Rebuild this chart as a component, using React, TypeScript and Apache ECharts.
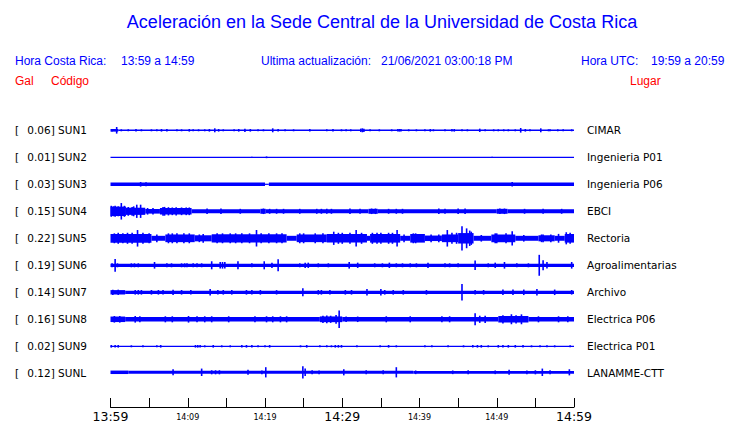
import React, { useEffect, useRef } from "react";
import * as echarts from "echarts";

// ---- data ----
const STATIONS = ["SUN1", "SUN2", "SUN3", "SUN4", "SUN5", "SUN6", "SUN7", "SUN8", "SUN9", "SUNL"];
const PEAKS = ["0.06", "0.01", "0.03", "0.15", "0.22", "0.19", "0.14", "0.16", "0.02", "0.12"];
const PLACES = ["CIMAR", "Ingenieria P01", "Ingenieria P06", "EBCI", "Rectoria", "Agroalimentarias", "Archivo", "Electrica P06", "Electrica P01", "LANAMME-CTT"];
const TICK_LABELS = ["13:59", "14:09", "14:19", "14:29", "14:39", "14:49", "14:59"];
const BIG_LABELS = ["13:59", "14:29", "14:59"];

// envelope steps: [minute from 13:59, half amplitude in Gal]
const ENV_SUN1 = [[0, 0.024], [1.0, 0.014]];
const ENV_SUN2 = [[0, 0.005]];
const ENV_SUN3 = [[0, 0.032], [20.0, 0.006], [20.5, 0.032]];
const ENV_SUN4 = [[0, 0.085], [2.0, 0.065], [4.5, 0.042], [6.4, 0.06], [10.5, 0.036], [19.4, 0.045], [20.1, 0.036], [33.4, 0.045], [34.6, 0.036], [50.0, 0.045], [51.4, 0.036]];
const ENV_SUN5 = [[0, 0.08], [5.3, 0.045], [7.1, 0.07], [10.9, 0.055], [13.1, 0.075], [22.8, 0.045], [24.1, 0.07], [28.0, 0.078], [33.2, 0.045], [33.6, 0.078], [37.5, 0.045], [38.8, 0.078], [40.7, 0.05], [42.9, 0.07], [45.0, 0.095], [47.0, 0.045], [49.3, 0.07], [52.4, 0.045], [55.4, 0.055], [57.5, 0.045], [58.8, 0.078]];
const ENV_SUN6 = [[0, 0.03]];
const ENV_SUN7 = [[0, 0.04], [1.9, 0.03]];
const ENV_SUN8 = [[0, 0.05], [1.9, 0.042], [27.1, 0.052], [30.0, 0.042], [50.2, 0.058], [54.1, 0.042]];
const ENV_SUN9 = [[0, 0.006]];
const ENV_SUNL = [[0, 0.034], [2.3, 0.03], [39.2, 0.026]];

// spikes: [minute from 13:59, half amplitude in Gal]
const SPK_SUN1 = [[0.2, 0.024], [0.8, 0.06], [1.4, 0.018], [2.3, 0.018], [3.3, 0.024], [4.0, 0.018], [5.3, 0.018], [6.0, 0.018], [6.6, 0.024], [7.3, 0.024], [8.6, 0.018], [9.2, 0.018], [10.2, 0.024], [10.7, 0.018], [11.4, 0.018], [12.2, 0.018], [12.8, 0.024], [13.5, 0.036], [14.0, 0.024], [14.6, 0.018], [16.0, 0.018], [16.6, 0.024], [17.4, 0.03], [18.1, 0.024], [19.1, 0.018], [19.8, 0.018], [21.0, 0.036], [21.7, 0.024], [22.6, 0.018], [23.7, 0.018], [25.8, 0.024], [28.0, 0.018], [28.8, 0.024], [29.9, 0.018], [30.5, 0.018], [31.1, 0.018], [32.4, 0.03], [32.6, 0.036], [32.8, 0.03], [33.6, 0.018], [34.8, 0.018], [36.4, 0.018], [37.2, 0.024], [37.4, 0.024], [37.6, 0.024], [38.6, 0.018], [39.6, 0.018], [40.7, 0.018], [41.4, 0.024], [41.8, 0.018], [43.3, 0.018], [44.2, 0.024], [44.5, 0.024], [45.5, 0.018], [46.2, 0.018], [47.8, 0.03], [48.5, 0.018], [49.6, 0.018], [50.2, 0.018], [50.9, 0.018], [51.5, 0.018], [52.4, 0.018], [53.1, 0.042], [53.7, 0.024], [54.3, 0.018], [55.7, 0.036], [56.7, 0.018], [56.9, 0.018], [57.9, 0.018], [58.6, 0.018], [59.7, 0.018]];
const SPK_SUN2 = [[18.3, 0.012], [20.2, 0.016], [49.4, 0.012]];
const SPK_SUN3 = [[3.9, 0.042], [4.6, 0.036], [52.0, 0.04]];
const SPK_SUN4 = [[0.1, 0.1], [0.4, 0.09], [0.6, 0.1], [1.0, 0.09], [1.4, 0.15], [1.8, 0.1], [2.3, 0.08], [2.8, 0.08], [3.0, 0.09], [3.4, 0.12], [3.9, 0.12], [4.8, 0.06], [5.5, 0.06], [6.8, 0.08], [7.0, 0.08], [7.5, 0.075], [8.0, 0.07], [8.5, 0.075], [9.2, 0.07], [9.8, 0.07], [10.2, 0.07], [12.5, 0.05], [14.3, 0.05], [16.8, 0.045], [19.8, 0.05], [20.6, 0.045], [21.5, 0.045], [22.4, 0.045], [24.5, 0.045], [26.7, 0.045], [27.3, 0.045], [28.0, 0.045], [28.6, 0.045], [31.0, 0.05], [32.3, 0.045], [33.8, 0.05], [34.3, 0.05], [36.0, 0.045], [37.0, 0.045], [37.8, 0.045], [42.5, 0.05], [43.3, 0.045], [45.0, 0.05], [45.9, 0.05], [50.4, 0.05], [51.0, 0.05], [53.6, 0.045], [56.0, 0.045], [58.4, 0.045]];
const SPK_SUN5 = [[0.5, 0.09], [1.0, 0.1], [1.6, 0.09], [2.2, 0.1], [2.8, 0.1], [3.5, 0.15], [4.2, 0.1], [5.0, 0.09], [6.0, 0.07], [7.5, 0.09], [8.0, 0.09], [8.6, 0.09], [9.5, 0.09], [10.2, 0.09], [11.5, 0.07], [12.0, 0.08], [13.8, 0.09], [14.5, 0.09], [15.5, 0.09], [16.2, 0.09], [17.0, 0.09], [18.0, 0.09], [18.9, 0.15], [19.5, 0.09], [20.5, 0.09], [21.5, 0.09], [22.2, 0.09], [24.5, 0.09], [25.0, 0.09], [26.5, 0.09], [27.5, 0.09], [28.9, 0.12], [29.5, 0.1], [30.0, 0.1], [31.0, 0.1], [31.8, 0.15], [32.5, 0.1], [33.9, 0.1], [34.5, 0.1], [35.0, 0.1], [36.0, 0.1], [36.5, 0.1], [37.1, 0.15], [38.0, 0.07], [39.2, 0.09], [39.5, 0.09], [41.5, 0.07], [42.5, 0.07], [43.6, 0.15], [44.2, 0.1], [44.8, 0.1], [45.5, 0.22], [46.1, 0.18], [46.5, 0.14], [46.7, 0.12], [48.0, 0.06], [49.8, 0.09], [50.0, 0.09], [51.2, 0.09], [52.0, 0.13], [53.5, 0.06], [55.8, 0.07], [56.0, 0.07], [57.0, 0.07], [58.0, 0.08], [59.0, 0.11], [59.5, 0.1]];
const SPK_SUN6 = [[0.2, 0.036], [0.6, 0.115], [0.9, 0.036], [2.7, 0.036], [3.1, 0.036], [3.6, 0.036], [5.7, 0.06], [7.3, 0.036], [7.9, 0.036], [9.2, 0.036], [9.6, 0.036], [9.9, 0.036], [10.7, 0.036], [11.2, 0.036], [11.8, 0.036], [13.1, 0.073], [14.2, 0.06], [14.5, 0.06], [14.8, 0.06], [16.5, 0.073], [18.3, 0.036], [19.9, 0.073], [20.9, 0.048], [21.7, 0.11], [24.5, 0.036], [25.2, 0.048], [25.6, 0.048], [26.9, 0.036], [28.2, 0.036], [30.9, 0.06], [32.0, 0.048], [34.2, 0.036], [35.2, 0.036], [36.1, 0.048], [37.0, 0.036], [37.8, 0.036], [38.8, 0.036], [39.6, 0.036], [41.1, 0.048], [43.3, 0.036], [43.9, 0.036], [45.0, 0.036], [47.2, 0.085], [48.9, 0.036], [49.8, 0.048], [51.0, 0.06], [52.6, 0.036], [54.1, 0.036], [55.5, 0.19], [56.0, 0.09], [56.5, 0.06], [59.7, 0.06]];
const SPK_SUN7 = [[0.3, 0.048], [1.0, 0.048], [3.2, 0.042], [3.6, 0.042], [4.0, 0.042], [5.3, 0.042], [6.2, 0.042], [6.8, 0.042], [8.1, 0.048], [9.2, 0.042], [10.4, 0.04], [12.9, 0.06], [13.9, 0.042], [14.6, 0.042], [15.7, 0.042], [17.6, 0.042], [18.3, 0.042], [19.4, 0.042], [21.5, 0.04], [24.9, 0.073], [26.9, 0.042], [27.3, 0.042], [28.4, 0.042], [30.4, 0.042], [31.2, 0.042], [33.2, 0.06], [35.0, 0.06], [35.5, 0.042], [36.6, 0.042], [37.9, 0.042], [40.9, 0.042], [45.5, 0.15], [47.2, 0.042], [48.3, 0.042], [50.8, 0.05], [52.1, 0.05], [53.5, 0.05], [55.2, 0.06], [57.5, 0.05], [59.7, 0.042]];
const SPK_SUN8 = [[0.5, 0.06], [1.2, 0.06], [3.2, 0.06], [3.8, 0.055], [7.1, 0.055], [8.0, 0.055], [10.1, 0.06], [11.2, 0.055], [12.2, 0.055], [13.1, 0.055], [15.3, 0.055], [18.7, 0.055], [20.2, 0.055], [21.0, 0.055], [22.0, 0.055], [22.8, 0.055], [27.5, 0.065], [28.0, 0.07], [28.5, 0.065], [29.2, 0.08], [29.6, 0.16], [30.5, 0.05], [32.0, 0.05], [35.7, 0.055], [38.8, 0.055], [42.9, 0.055], [43.9, 0.055], [47.2, 0.11], [47.8, 0.065], [48.5, 0.065], [50.8, 0.075], [51.9, 0.09], [52.5, 0.075], [53.2, 0.09], [55.4, 0.055], [58.0, 0.055], [59.2, 0.055]];
const SPK_SUN9 = [[0.1, 0.024], [0.6, 0.024], [1.0, 0.024], [2.7, 0.018], [4.2, 0.018], [6.0, 0.018], [6.5, 0.024], [11.0, 0.024], [11.3, 0.024], [11.6, 0.024], [12.2, 0.018], [13.3, 0.024], [14.4, 0.018], [15.5, 0.018], [17.0, 0.024], [17.6, 0.024], [18.3, 0.024], [19.1, 0.018], [20.0, 0.018], [20.6, 0.024], [24.6, 0.018], [25.4, 0.024], [27.1, 0.018], [28.0, 0.018], [28.6, 0.018], [29.1, 0.024], [29.5, 0.024], [29.9, 0.024], [31.9, 0.018], [34.9, 0.018], [36.0, 0.024], [37.0, 0.018], [40.7, 0.018], [41.6, 0.018], [43.7, 0.018], [45.7, 0.018], [46.9, 0.024], [47.5, 0.024], [48.0, 0.024], [48.9, 0.018], [50.2, 0.024], [50.8, 0.024], [51.5, 0.024], [52.4, 0.024], [53.4, 0.024], [54.5, 0.018], [55.6, 0.018], [56.5, 0.018], [57.5, 0.018], [59.5, 0.018]];
const SPK_SUNL = [[8.1, 0.06], [11.8, 0.073], [13.1, 0.04], [13.6, 0.04], [14.1, 0.04], [17.8, 0.05], [19.6, 0.036], [20.1, 0.1], [24.9, 0.12], [25.2, 0.073], [26.1, 0.04], [27.0, 0.036], [30.2, 0.06], [33.1, 0.04], [35.3, 0.04], [37.0, 0.1], [39.5, 0.036], [44.3, 0.036], [46.3, 0.04], [49.8, 0.036], [51.6, 0.05], [53.9, 0.036], [55.0, 0.04], [55.9, 0.073], [56.9, 0.04], [59.4, 0.06]];

const ENVS = [ENV_SUN1, ENV_SUN2, ENV_SUN3, ENV_SUN4, ENV_SUN5, ENV_SUN6, ENV_SUN7, ENV_SUN8, ENV_SUN9, ENV_SUNL];
const SPIKES = [SPK_SUN1, SPK_SUN2, SPK_SUN3, SPK_SUN4, SPK_SUN5, SPK_SUN6, SPK_SUN7, SPK_SUN8, SPK_SUN9, SPK_SUNL];

const T_END = 60;
const BLUE = "#0000ff";

export default function App() {
  const ref = useRef<HTMLDivElement>(null);
  useEffect(() => {
    document.body.style.margin = "0";
    const chart = echarts.init(ref.current!, null, { renderer: "svg" });

    const LEFT = 110.5;
    const PLOT_W = 463.5;
    const TOP0 = 116.8;
    const ROW = 27;
    const n = STATIONS.length;

    const grids: any[] = [];
    const xAxes: any[] = [];
    const yAxes: any[] = [];
    const series: any[] = [];
    const graphics: any[] = [];

    const envRender = (params: any, api: any) => {
      const t0 = api.value(0), t1 = api.value(1), a = api.value(2);
      const p0 = api.coord([t0, a]);
      const p1 = api.coord([t1, -a]);
      let h = p1[1] - p0[1];
      let y = p0[1];
      if (h < 1.2) { y = (p0[1] + p1[1]) / 2 - 0.6; h = 1.2; }
      return { type: "rect", shape: { x: p0[0], y, width: p1[0] - p0[0], height: h }, style: { fill: BLUE } };
    };
    const spikeRender = (params: any, api: any) => {
      const t = api.value(0), a = api.value(1);
      const p0 = api.coord([t, a]);
      const p1 = api.coord([t, -a]);
      return { type: "rect", shape: { x: p0[0] - 0.8, y: p0[1], width: 1.6, height: Math.max(1, p1[1] - p0[1]) }, style: { fill: BLUE } };
    };

    for (let i = 0; i < n; i++) {
      const top = TOP0 + ROW * i;
      grids.push({ left: LEFT, width: PLOT_W, top, height: ROW });
      const last = i === n - 1;
      xAxes.push({
        type: "value", gridIndex: i, min: 0, max: T_END, interval: 5,
        show: last, position: "bottom", offset: last ? 22.2 : 0,
        axisLine: { show: true, onZero: false, lineStyle: { color: "#000", width: 1 } },
        axisTick: { show: true, inside: true, length: 9, lineStyle: { color: "#000", width: 1 } },
        splitLine: { show: false },
        axisLabel: {
          margin: 2,
          formatter: (v: number) => {
            if (v % 10 !== 0) return "";
            const lab = TICK_LABELS[v / 10];
            return BIG_LABELS.includes(lab) ? `{big|${lab}}` : `{small|${lab}}`;
          },
          rich: {
            big: { fontFamily: "DejaVu Sans", fontSize: 12.5, color: "#000", padding: [1, 0, 0, 0] },
            small: { fontFamily: "DejaVu Sans", fontSize: 8, color: "#000", padding: [4, 0, 0, 0] },
          },
        },
      });
      yAxes.push({ type: "value", gridIndex: i, min: -0.245, max: 0.245, show: false, splitLine: { show: false } });

      const env = ENVS[i];
      const envData = env.map((e, k) => [e[0], k + 1 < env.length ? env[k + 1][0] : T_END, e[1]]);
      series.push({
        type: "custom", xAxisIndex: i, yAxisIndex: i, renderItem: envRender,
        encode: { x: [0, 1], y: 2 }, data: envData, silent: true, clip: false,
      });
      series.push({
        type: "custom", xAxisIndex: i, yAxisIndex: i, renderItem: spikeRender,
        encode: { x: 0, y: 1 }, data: SPIKES[i], silent: true, clip: false,
      });

      const cy = top + ROW / 2;
      const lf = { fontFamily: "DejaVu Sans", fontSize: 10.5, fill: "#000", verticalAlign: "middle" };
      graphics.push({ type: "text", x: 15, y: cy, style: { ...lf, text: "[" } });
      graphics.push({ type: "text", x: 27.3, y: cy, style: { ...lf, text: `${PEAKS[i]}] ${STATIONS[i]}` } });
      graphics.push({ type: "text", x: 587, y: cy, style: { ...lf, text: PLACES[i] } });
    }

    const hf = { fontFamily: "Liberation Sans", fontSize: 12, verticalAlign: "middle" };
    graphics.push({ type: "text", x: 382, y: 22, style: { text: "Aceleración en la Sede Central de la Universidad de Costa Rica", fontFamily: "Liberation Sans", fontSize: 18, fill: BLUE, align: "center", verticalAlign: "middle" } });
    graphics.push({ type: "text", x: 15, y: 61, style: { ...hf, text: "Hora Costa Rica:", fill: BLUE } });
    graphics.push({ type: "text", x: 121, y: 61, style: { ...hf, text: "13:59 a 14:59", fill: BLUE } });
    graphics.push({ type: "text", x: 261, y: 61, style: { ...hf, text: "Ultima actualización:", fill: BLUE } });
    graphics.push({ type: "text", x: 381, y: 61, style: { ...hf, text: "21/06/2021 03:00:18 PM", fill: BLUE } });
    graphics.push({ type: "text", x: 581, y: 61, style: { ...hf, text: "Hora UTC:", fill: BLUE } });
    graphics.push({ type: "text", x: 651, y: 61, style: { ...hf, text: "19:59 a 20:59", fill: BLUE } });
    graphics.push({ type: "text", x: 15, y: 81, style: { ...hf, text: "Gal", fill: "#ff0000" } });
    graphics.push({ type: "text", x: 51, y: 81, style: { ...hf, text: "Código", fill: "#ff0000" } });
    graphics.push({ type: "text", x: 630, y: 81, style: { ...hf, text: "Lugar", fill: "#ff0000" } });

    chart.setOption({
      animation: false,
      backgroundColor: "#ffffff",
      grid: grids,
      xAxis: xAxes,
      yAxis: yAxes,
      series,
      graphic: { elements: graphics },
    });
    return () => chart.dispose();
  }, []);
  return <div ref={ref} style={{ width: 740, height: 423 }} />;
}
